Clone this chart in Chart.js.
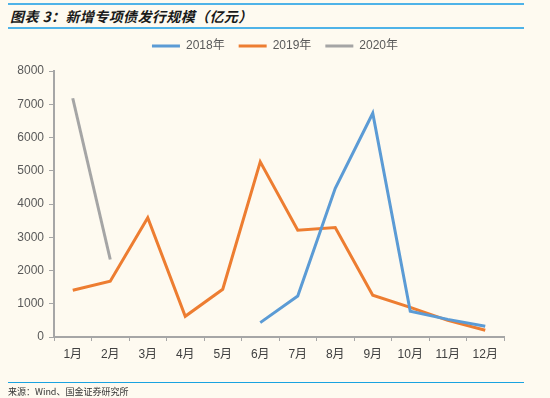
<!DOCTYPE html>
<html>
<head>
  <meta charset="utf-8">
  <title>新增专项债发行规模</title>
  <script src="https://cdn.jsdelivr.net/npm/chart.js"></script>
  <style>
    body {
      margin: 0;
      padding: 0;
      width: 550px;
      height: 398px;
      background-color: #fefaf0;
      font-family: 'Liberation Sans', 'Noto Sans CJK SC', sans-serif;
      position: relative;
      overflow: hidden;
    }

    .judul {
      position: absolute;
      left: 8px;
      top: 3px;
      width: 514px;
      height: 22px;
      border-top: 2px solid #4fb3e8;
      border-bottom: 2px solid #4fb3e8;
      font-family: 'Noto Sans CJK SC', sans-serif;
      font-weight: bold;
      font-style: italic;
      font-size: 14px;
      letter-spacing: 0.4px;
      line-height: 22px;
      color: #1a1a1a;
      padding-left: 2px;
    }

    .sumber {
      position: absolute;
      left: 8px;
      top: 382px;
      width: 516px;
      border-top: 1.5px solid #1aa3e0;
      padding-top: 2px;
      font-family: 'Noto Sans CJK SC', sans-serif;
      font-size: 9px;
      line-height: 14px;
      color: #333;
    }

    #chart-container {
      position: absolute;
      left: 0;
      top: 0;
      width: 550px;
      height: 398px;
    }
  </style>
</head>
<body>

  <div class="judul">图表 3：新增专项债发行规模（亿元）</div>

  <div id="chart-container">
    <canvas id="myChart" width="550" height="398"></canvas>
  </div>

  <div class="sumber">来源：Wind、国金证券研究所</div>

  <script>
    // data (亿元)
    const bulan = ['1月', '2月', '3月', '4月', '5月', '6月', '7月', '8月', '9月', '10月', '11月', '12月'];
    const data2018 = [null, null, null, null, null, 433, 1235, 4470, 6730, 774, 530, 322];
    const data2019 = [1407, 1678, 3585, 623, 1437, 5270, 3214, 3295, 1256, 890, 500, 202];
    const data2020 = [7180, 2330, null, null, null, null, null, null, null, null, null, null];

    const warnaAxis = '#a6a6a6';
    const warnaTeks = '#595959';
    const hurufLabel = "'Liberation Sans', 'Noto Sans CJK SC', sans-serif";

    // tambah jarak di bawah legend supaya area grafik mulai lebih bawah
    const jarakLegend = {
      id: 'jarakLegend',
      beforeUpdate(chart) {
        const lg = chart.legend;
        if (lg && !lg._diubah) {
          const fitAsli = lg.fit;
          lg.fit = function () {
            fitAsli.call(this);
            this.height += 9;
          };
          lg._diubah = true;
        }
      }
    };

    const ctx = document.getElementById('myChart').getContext('2d');
    const chart = new Chart(ctx, {
      type: 'line',
      data: {
        labels: bulan,
        datasets: [
          { label: '2018年', data: data2018, borderColor: '#5b9bd5', backgroundColor: '#5b9bd5' },
          { label: '2019年', data: data2019, borderColor: '#ed7d31', backgroundColor: '#ed7d31' },
          { label: '2020年', data: data2020, borderColor: '#a5a5a5', backgroundColor: '#a5a5a5' }
        ]
      },
      options: {
        responsive: false,
        animation: false,
        spanGaps: false,
        elements: {
          line: { borderWidth: 3, tension: 0 },
          point: { radius: 0, borderWidth: 3 }
        },
        layout: {
          padding: { top: 26, left: 0, right: 0, bottom: 31 }
        },
        plugins: {
          tooltip: { enabled: false },
          legend: {
            position: 'top',
            labels: {
              usePointStyle: true,
              pointStyle: 'line',
              pointStyleWidth: 28,
              boxHeight: 12,
              padding: 14,
              color: warnaTeks,
              font: { family: hurufLabel, size: 12 }
            }
          }
        },
        scales: {
          x: {
            offset: true,
            grid: {
              display: true,
              offset: true,
              drawOnChartArea: false,
              tickLength: 4,
              color: warnaAxis
            },
            border: { color: warnaAxis, width: 2 },
            ticks: {
              color: '#404040',
              padding: 6,
              maxRotation: 0,
              autoSkip: false,
              font: { family: hurufLabel, size: 12 }
            },
            afterFit: s => { s.height = 30; s.paddingRight = 46; }
          },
          y: {
            min: 0,
            max: 8000,
            grid: {
              display: true,
              drawOnChartArea: false,
              tickLength: 5,
              color: warnaAxis
            },
            border: { color: warnaAxis, width: 2 },
            ticks: {
              stepSize: 1000,
              color: warnaTeks,
              padding: 5,
              font: { family: "'Liberation Sans', sans-serif", size: 12 },
              callback: v => String(v)
            },
            afterFit: s => { s.width = 54; }
          }
        }
      },
      plugins: [jarakLegend]
    });
  </script>

</body>
</html>
